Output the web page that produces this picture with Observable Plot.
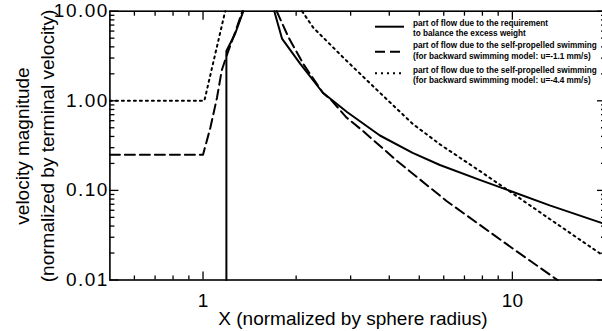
<!DOCTYPE html>
<html>
<head>
<meta charset="utf-8">
<script src="https://cdn.jsdelivr.net/npm/d3@7"></script>
<script src="https://cdn.jsdelivr.net/npm/@observablehq/plot@0.6"></script>
<style>
  html, body { margin: 0; padding: 0; background: #fff; overflow: hidden; }
  #chart svg { overflow: hidden; display: block; }
  g[aria-label="y-axis tick label"] text { letter-spacing: 1.5px; }
</style>
</head>
<body>
<div id="chart"></div>
<script>
// Flow velocity components along the axis (x in sphere radii, velocity / terminal velocity).
// null marks the stretch where a curve leaves the top of the plot.
const weightX = [1.19, 1.19, 1.27, 1.35, null, 1.70, 1.80, 2.06, 2.44, 2.92, 3.73, 4.76, 5.83, 7.84, 9.58, 13.2, 19.4, 20];
const weightY = [0.01, 3.6, 5.6, 10, null, 10, 4.95, 2.6, 1.23, 0.75, 0.41, 0.262, 0.192, 0.131, 0.102, 0.068, 0.0434, 0.042];

const swimSlowX = [0.5, 1.0, 1.056, 1.11, 1.15, 1.2, 1.27, 1.34, null, 1.73, 1.89, 2.11, 2.44, 2.61, 2.91, 3.29, 4.24, 6.14, 10, 13.7, 14.0];
const swimSlowY = [0.25, 0.25, 0.5, 1.09, 2.2, 3.4, 5.8, 10, null, 10, 5.1, 2.57, 1.23, 1.0, 0.65, 0.46, 0.213, 0.0757, 0.0226, 0.0105, 0.01];

const swimFastX = [0.5, 1.01, 1.174, 1.18, null, 2.09, 2.27, 2.91, 3.73, 4.77, 5.83, 7.84, 9.58, 13.2, 19.4, 20];
const swimFastY = [1.0, 1.0, 9.35, 10, null, 10, 6.57, 2.8, 1.23, 0.55, 0.327, 0.165, 0.103, 0.048, 0.0193, 0.0181];

// Axis ticks and labels
const xMajor = [1, 10];
const xMinor = [0.6, 0.7, 0.8, 0.9, 2, 3, 4, 5, 6, 7, 8, 9, 20];
const xTickLabels = ["1", "10"];
const yMajor = [0.01, 0.1, 1, 10];
const yMinor = [0.02, 0.03, 0.04, 0.05, 0.06, 0.07, 0.08, 0.09,
                0.2, 0.3, 0.4, 0.5, 0.6, 0.7, 0.8, 0.9,
                2, 3, 4, 5, 6, 7, 8, 9];
const yTickLabels = ["0.01", "0.10", "1.00", "10.00"];

const xTitle = "X (normalized by sphere radius)";
const yTitle = ["velocity magnitude", "(normalized by terminal velocity)"];

const legendLines = [
  ["part of flow due to the requirement", "to balance the excess weight"],
  ["part of flow due to the self-propelled swimming", "(for backward swimming model: u=-1.1 mm/s)"],
  ["part of flow due to the self-propelled swimming", "(for backward swimming model: u=-4.4 mm/s)"]
];

const dashes = [null, "10,5", "2,4"];
const FONT = "'Liberation Sans', Arial, Helvetica, sans-serif";

const rows = (xs, ys) => xs.map((x, i) => ({x, y: ys[i]}));

function curve(xs, ys, dash) {
  return Plot.line(rows(xs, ys), {
    x: "x", y: "y", stroke: "#000", strokeWidth: 2,
    strokeDasharray: dash || undefined
  });
}

const chart = Plot.plot({
  width: 602,
  height: 331,
  marginLeft: 109.4,
  marginRight: -3,
  marginTop: 10.7,
  marginBottom: 51.5,
  style: {fontFamily: FONT, color: "#000", background: "#fff"},
  x: {type: "log", domain: [0.5, 20]},
  y: {type: "log", domain: [0.01, 10]},
  marks: [
    curve(weightX, weightY, dashes[0]),
    curve(swimSlowX, swimSlowY, dashes[1]),
    curve(swimFastX, swimFastY, dashes[2]),
    // inward-pointing ticks on all four sides
    Plot.axisX(xMajor, {anchor: "bottom", tickSize: -8, fill: "none", strokeWidth: 1.3}),
    Plot.axisX(xMinor, {anchor: "bottom", tickSize: -4, fill: "none", strokeWidth: 1.3}),
    Plot.axisX(xMajor, {anchor: "top", tickSize: -8, fill: "none", strokeWidth: 1.3}),
    Plot.axisX(xMinor, {anchor: "top", tickSize: -4, fill: "none", strokeWidth: 1.3}),
    Plot.axisY(yMajor, {anchor: "left", tickSize: -9, fill: "none", strokeWidth: 1.3}),
    Plot.axisY(yMinor, {anchor: "left", tickSize: -5, fill: "none", strokeWidth: 1.3}),
    Plot.axisY(yMajor, {anchor: "right", tickSize: -9, fill: "none", strokeWidth: 1.3}),
    Plot.axisY(yMinor, {anchor: "right", tickSize: -5, fill: "none", strokeWidth: 1.3}),
    // tick labels
    Plot.axisX(xMajor, {anchor: "bottom", tickSize: 0, tickPadding: 13, fontSize: 19,
      tickFormat: d => xTickLabels[xMajor.indexOf(d)], label: null}),
    Plot.axisY(yMajor, {anchor: "left", tickSize: 0, tickPadding: 1, fontSize: 19,
      tickFormat: d => yTickLabels[yMajor.indexOf(d)], label: null}),
    Plot.frame({stroke: "#000", strokeWidth: 1.6})
  ]
});

document.getElementById("chart").append(chart);

const svg = d3.select(chart);

// Axis titles
svg.append("text")
  .attr("x", 353).attr("y", 325)
  .attr("text-anchor", "middle")
  .attr("font-family", FONT).attr("font-size", 19).attr("fill", "#000")
  .text(xTitle);

yTitle.forEach((t, i) => {
  svg.append("text")
    .attr("transform", `translate(${22 + 25 * i},146) rotate(-90)`)
    .attr("text-anchor", "middle").attr("dy", "0.35em")
    .attr("font-family", FONT).attr("font-size", 19).attr("fill", "#000")
    .text(t);
});

// Legend in the upper right corner of the plot
const legend = svg.append("g").attr("class", "legend")
  .attr("font-family", FONT).attr("text-anchor", "start")
  .attr("font-size", 8.2).attr("font-weight", "bold").attr("fill", "#000");
const sampleY = [26.7, 51.7, 73.3];
const textY = [[22.7, 33.0], [45.0, 55.7], [70.0, 80.0]];
legendLines.forEach((lines, i) => {
  legend.append("line")
    .attr("x1", 375).attr("x2", 404)
    .attr("y1", sampleY[i]).attr("y2", sampleY[i])
    .attr("stroke", "#000").attr("stroke-width", 2)
    .attr("stroke-dasharray", dashes[i]);
  lines.forEach((t, j) => {
    legend.append("text").attr("x", 413).attr("y", textY[i][j]).attr("dy", "0.35em").text(t);
  });
});
</script>
</body>
</html>
